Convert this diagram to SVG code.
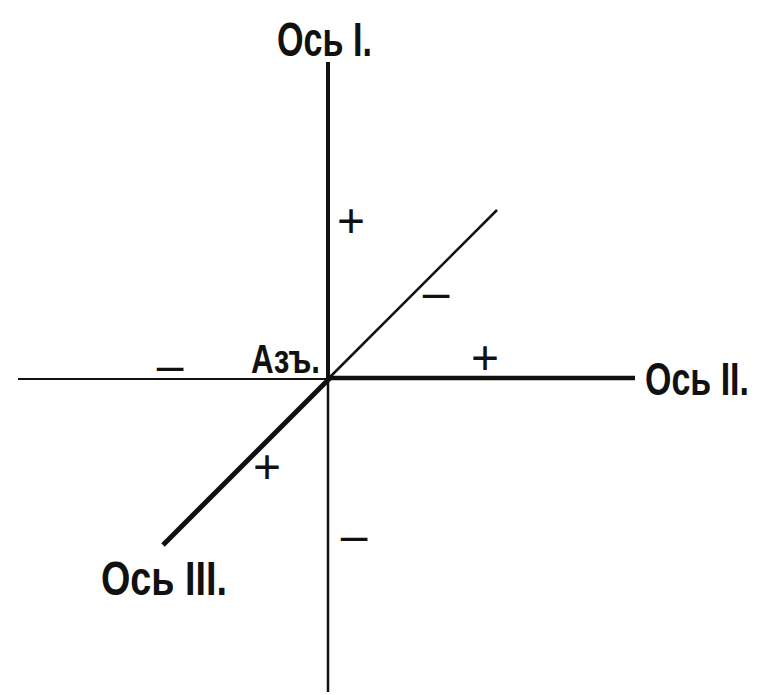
<svg xmlns="http://www.w3.org/2000/svg" width="758" height="695" viewBox="0 0 758 695">
<style>
.lbl{font-family:"Liberation Sans","DejaVu Sans",sans-serif;font-weight:bold;fill:#111}
.sg{font-family:"Liberation Sans","DejaVu Sans",sans-serif;font-size:48px;fill:#111;text-anchor:middle}
.ax{stroke:#111;fill:none;stroke-linecap:butt}
</style>
<rect width="758" height="695" fill="#fff"/>
<g id="connectors">
<line class="ax" x1="328" y1="62" x2="328" y2="380" stroke-width="4"/>
<line class="ax" x1="328" y1="380" x2="328" y2="692" stroke-width="2.5"/>
<line class="ax" x1="18" y1="379" x2="328" y2="379" stroke-width="2"/>
<line class="ax" x1="328" y1="378" x2="635" y2="378" stroke-width="4.5"/>
<line class="ax" x1="328" y1="379" x2="497" y2="210" stroke-width="2.5"/>
<line class="ax" x1="330" y1="378" x2="163" y2="545" stroke-width="5"/>
</g>
<g id="axis1"><text class="lbl" x="277" y="56" font-size="49" textLength="95" lengthAdjust="spacingAndGlyphs">Ось I.</text></g>
<g id="axis2"><text class="lbl" transform="translate(645,395) scale(0.727,1)" x="0" y="0" font-size="47" textLength="143" lengthAdjust="spacingAndGlyphs">Ось II.</text></g>
<g id="axis3"><text class="lbl" x="101" y="595" font-size="49" textLength="126" lengthAdjust="spacingAndGlyphs">Ось III.</text></g>
<g id="origin"><text class="lbl" x="251" y="373" font-size="41" textLength="69" lengthAdjust="spacingAndGlyphs">Азъ.</text></g>
<g id="signs">
<text class="sg" x="351" y="237">+</text>
<text class="sg" x="436" y="309">–</text>
<text class="sg" x="485" y="374">+</text>
<text class="sg" x="170" y="382">–</text>
<text class="sg" x="267" y="483">+</text>
<text class="sg" x="354" y="552">–</text>
</g>
</svg>
